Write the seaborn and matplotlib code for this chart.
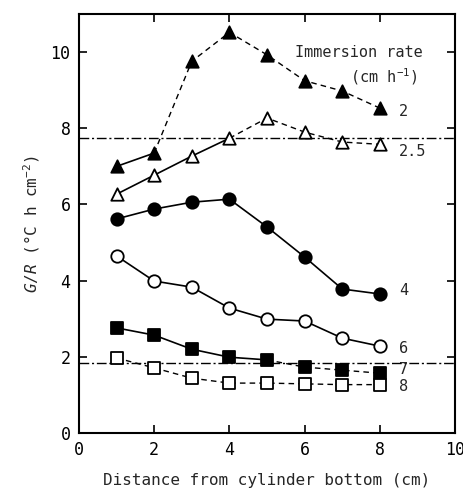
import matplotlib
matplotlib.use("Agg")
import matplotlib.pyplot as plt
import seaborn as sns
import pandas as pd

sns.set_theme(style="ticks")
plt.rcParams['font.family'] = ['DejaVu Sans Mono', 'DejaVu Sans']
plt.rcParams['mathtext.fontset'] = 'custom'
plt.rcParams['mathtext.rm'] = 'DejaVu Sans Mono'
plt.rcParams['mathtext.it'] = 'DejaVu Sans Mono:italic'

distance = [1, 2, 3, 4, 5, 6, 7, 8]
rate_labels = ["2", "2.5", "4", "6", "7", "8"]
gr_2 = [7.0, 7.35, 9.76, 10.52, 9.93, 9.25, 8.98, 8.53]
gr_25 = [6.27, 6.77, 7.27, 7.74, 8.27, 7.9, 7.64, 7.58]
gr_4 = [5.62, 5.88, 6.06, 6.14, 5.41, 4.62, 3.78, 3.65]
gr_6 = [4.65, 3.99, 3.83, 3.28, 2.99, 2.94, 2.49, 2.28]
gr_7 = [2.76, 2.57, 2.2, 1.99, 1.92, 1.73, 1.65, 1.57]
gr_8 = [1.97, 1.71, 1.44, 1.31, 1.31, 1.29, 1.27, 1.27]
ref_levels = [7.75, 1.85]
x_ticks = [0, 2, 4, 6, 8, 10]
y_ticks = [0, 2, 4, 6, 8, 10]

series = [gr_2, gr_25, gr_4, gr_6, gr_7, gr_8]
# index up to which segment is solid (afterwards dashed)
solid_until = [1, 3, 7, 7, 4, 0]
markers = ['^', '^', 'o', 'o', 's', 's']
filled = [True, False, True, False, True, False]
label_pos = [(8.5, 8.45), (8.5, 7.38), (8.5, 3.75), (8.5, 2.23), (8.5, 1.68), (8.5, 1.22)]

fig = plt.figure(figsize=(4.64, 4.94), dpi=100)
ax = fig.add_axes([0.170, 0.1235, 0.811, 0.848])

for vals, k, m, f in zip(series, solid_until, markers, filled):
    df = pd.DataFrame({"x": distance, "y": vals})
    if k > 0:
        sns.lineplot(data=df.iloc[:k + 1], x="x", y="y", ax=ax, color='black',
                     linewidth=1.2, linestyle='-')
    if k < len(distance) - 1:
        sns.lineplot(data=df.iloc[k:], x="x", y="y", ax=ax, color='black',
                     linewidth=1.0, linestyle=(0, (4, 3)))
    sns.scatterplot(data=df, x="x", y="y", ax=ax, marker=m, s=80,
                    facecolor='black' if f else 'white', edgecolor='black',
                    linewidth=1.3, zorder=5)

for lvl in ref_levels:
    ax.axhline(lvl, color='black', linewidth=1.0, linestyle=(0, (7, 2, 1.5, 2)))

for lab, (lx, ly) in zip(rate_labels, label_pos):
    ax.text(lx, ly, lab, fontsize=11, ha='left', va='center')

ax.text(7.44, 10.0, "Immersion rate", fontsize=11, ha='center', va='center')
ax.text(8.1, 9.37, r"(cm h$^{-1}$)", fontsize=11, ha='center', va='center')

ax.set_xlim(0, 10)
ax.set_ylim(0, 11)
ax.set_xticks(x_ticks)
ax.set_yticks(y_ticks)
ax.tick_params(direction='in', top=True, right=True, labelsize=12, length=6,
               width=1.2, colors='black', pad=6)
for sp in ax.spines.values():
    sp.set_linewidth(1.5)
    sp.set_color('black')
ax.set_xlabel("Distance from cylinder bottom (cm)", fontsize=11.5, labelpad=10)
ax.set_ylabel(r"$\it{G/R}$ ($\degree$C h cm$^{-2}$)", fontsize=11.5, labelpad=6)

fig.savefig("out.png", dpi=100, facecolor='white')
